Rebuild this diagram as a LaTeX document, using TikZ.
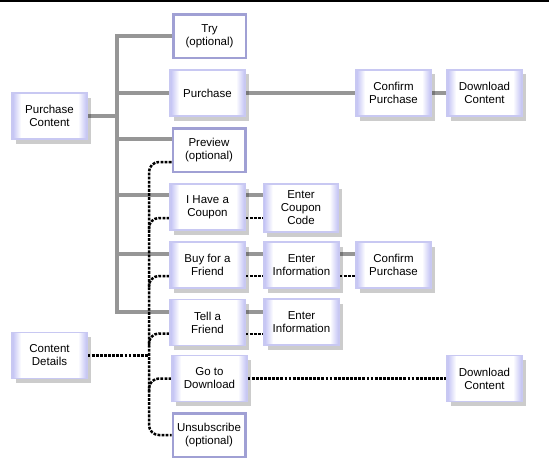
\documentclass[tikz,border=0pt]{standalone}
\usepackage{fontspec}
\setmainfont{Liberation Sans}
\usetikzlibrary{shadows,calc}
\definecolor{lav}{RGB}{192,192,244}
\definecolor{lavborder}{RGB}{200,200,242}
\definecolor{optborder}{RGB}{160,160,212}
\definecolor{conngray}{RGB}{150,150,150}
\pgfdeclarehorizontalshading{boxshade}{100bp}{color(0bp)=(lav); color(25bp)=(lav); color(31bp)=(white); color(69bp)=(white); color(75bp)=(lav); color(100bp)=(lav)}
\pgfdeclarelayer{bg}
\pgfsetlayers{bg,main}
\begin{document}
\begin{tikzpicture}[x=1pt,y=-1pt,
  every node/.style={font=\fontsize{11.5}{13}\selectfont, align=center, inner sep=0pt},
  sbox/.style={rectangle, minimum width=75pt, minimum height=46pt, shading=boxshade, draw=lavborder, line width=1.2pt,
    drop shadow={shadow xshift=3.5pt, shadow yshift=-4.5pt, opacity=0.2, fill=black}},
  obox/.style={rectangle, minimum width=72.5pt, minimum height=43.5pt, fill=white, draw=optborder, line width=2.5pt},
  gline/.style={draw=conngray, line width=4pt, line join=miter},
  dline/.style={draw=black, line width=2.5pt, dash pattern=on 2.8pt off 1.3pt},
]
\useasboundingbox (0,0) rectangle (549,460);
\fill[black] (0,0) rectangle (549,2);

\node[sbox] (pc) at (49.5,116) {Purchase\\Content};
\node[sbox] (cd) at (49.5,355.5) {Content\\Details};
\node[obox] (try) at (209.5,36.5) {Try\\(optional)};
\node[sbox] (purch) at (207.5,93) {Purchase};
\node[obox] (prev) at (209,150) {Preview\\(optional)};
\node[sbox] (coupon) at (207.5,207) {I Have a\\Coupon};
\node[sbox, minimum height=48pt] (ecc) at (301,208) {Enter\\Coupon\\Code};
\node[sbox] (buy) at (207.5,265) {Buy for a\\Friend};
\node[sbox] (ei1) at (301.5,265) {Enter\\Information};
\node[sbox] (cp2) at (393.5,265) {Confirm\\Purchase};
\node[sbox] (tell) at (207.5,322.5) {Tell a\\Friend};
\node[sbox] (ei2) at (301.5,322) {Enter\\Information};
\node[sbox] (goto) at (209.5,378.5) {Go to\\Download};
\node[sbox] (dl2) at (484.5,378.5) {Download\\Content};
\node[obox] (unsub) at (209,435) {Unsubscribe\\(optional)};
\node[sbox] (cp1) at (393.5,93) {Confirm\\Purchase};
\node[sbox] (dl1) at (484.5,93) {Download\\Content};

\coordinate (trunktop) at (117,36.5);
\coordinate (dtop) at (149,162);
\coordinate (dbot) at (149,435);

\begin{pgfonlayer}{bg}
% gray solid connectors
\draw[gline] ([yshift=11pt]tell.west) -| (trunktop) -- (try.west);
\draw[gline] (pc.east) -- (pc.east -| trunktop);
\draw[gline] (purch.west) -- (purch.west -| trunktop);
\draw[gline] ([yshift=11pt]prev.west) -- ([yshift=11pt]prev.west -| trunktop);
\draw[gline] ([yshift=12pt]coupon.west) -- ([yshift=12pt]coupon.west -| trunktop);
\draw[gline] ([yshift=11pt]buy.west) -- ([yshift=11pt]buy.west -| trunktop);
\draw[gline] (purch.east) -- (cp1.west);
\draw[gline] (cp1.east) -- (dl1.west);
\draw[gline] ([yshift=12pt]coupon.east) -- ([yshift=12pt]coupon.east -| ecc.west);
\draw[gline] ([yshift=11pt]buy.east) -- ([yshift=11pt]buy.east -| ei1.west);
\draw[gline] ([yshift=11pt]ei1.east) -- ([yshift=11pt]ei1.east -| cp2.west);
\draw[gline] ([yshift=11pt]tell.east) -- ([yshift=11pt]tell.east -| ei2.west);
% dotted connectors
\draw[dline, rounded corners=10pt] ([yshift=-12pt]prev.west) -- (dtop) -- (dbot) -- (unsub.west);
\draw[dline] (cd.east) -- (cd.east -| dtop);
\draw[dline, rounded corners=10pt] ([yshift=-11pt]coupon.west) -| ($([yshift=-11pt]coupon.west -| dtop)+(0,13)$);
\draw[dline, rounded corners=10pt] ([yshift=-11pt]buy.west) -| ($([yshift=-11pt]buy.west -| dtop)+(0,13)$);
\draw[dline, rounded corners=10pt] ([yshift=-11pt]tell.west) -| ($([yshift=-11pt]tell.west -| dtop)+(0,13)$);
\draw[dline, rounded corners=10pt] (goto.west) -| ($(goto.west -| dtop)+(0,13)$);
\draw[dline] ([yshift=-11pt]coupon.east) -- ([yshift=-11pt]coupon.east -| ecc.west);
\draw[dline] ([yshift=-11pt]buy.east) -- ([yshift=-11pt]buy.east -| ei1.west);
\draw[dline] ([yshift=-11pt]ei1.east) -- ([yshift=-11pt]ei1.east -| cp2.west);
\draw[dline] ([yshift=-11.5pt]tell.east) -- ([yshift=-11.5pt]tell.east -| ei2.west);
\draw[dline] (goto.east) -- (dl2.west);
\end{pgfonlayer}
\end{tikzpicture}
\end{document}
